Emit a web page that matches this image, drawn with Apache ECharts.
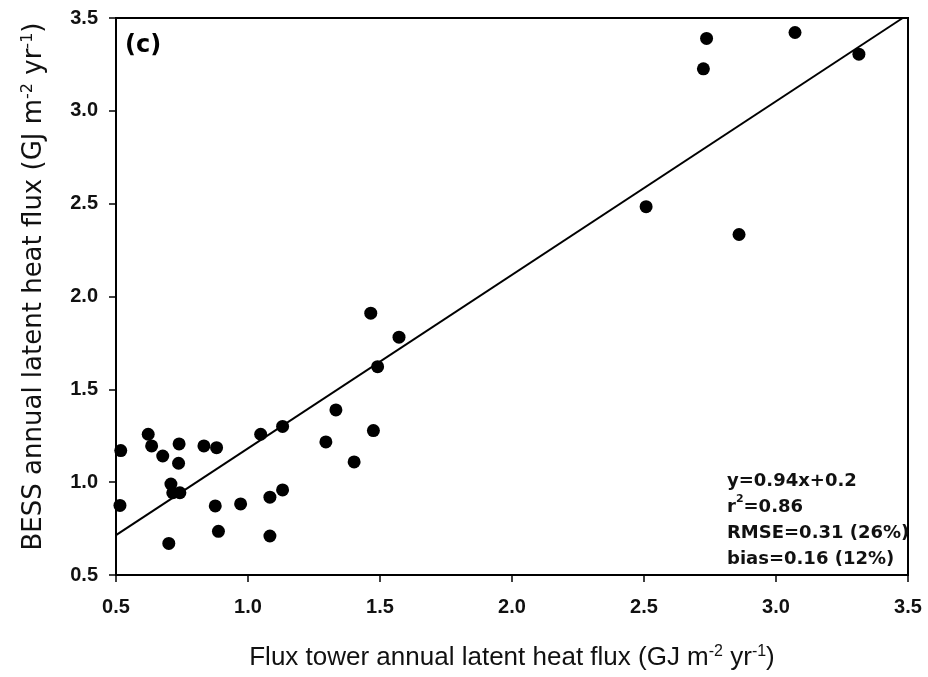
<!DOCTYPE html>
<html><head><meta charset="utf-8">
<script src="https://cdn.jsdelivr.net/npm/echarts@6/dist/echarts.min.js"></script>
<style>html,body{margin:0;padding:0;background:#fff}#c{width:928px;height:677px}</style>
</head><body><div id="c"></div>
<script>
const towerX = [0.518,0.515,0.622,0.635,0.677,0.739,0.737,0.708,0.715,0.742,0.700,0.833,0.881,0.876,0.888,0.972,1.048,1.131,1.083,1.131,1.083,1.333,1.295,1.402,1.475,1.465,1.572,1.491,2.508,2.860,2.737,2.725,3.072,3.314];
const bessY  = [1.170,0.875,1.258,1.195,1.141,1.206,1.102,0.990,0.943,0.943,0.670,1.195,1.186,0.872,0.735,0.883,1.258,1.300,0.919,0.958,0.710,1.389,1.217,1.109,1.278,1.910,1.781,1.622,2.484,2.334,3.390,3.226,3.422,3.305];
const fitX = [0.5, 3.48];
const fitY = [0.715, 3.5];
const xTicks = ['0.5','1.0','1.5','2.0','2.5','3.0','3.5'];
const statsLines = ['y=0.94x+0.2', 'r{sup|2}=0.86', 'RMSE=0.31 (26%)', 'bias=0.16 (12%)'];

const chart = echarts.init(document.getElementById('c'), null, {renderer:'canvas'});
const font = 'Liberation Sans, Arial, sans-serif';
const dv = 'DejaVu Sans, sans-serif';
chart.setOption({
  animation:false,
  backgroundColor:'#fff',
  grid:{left:116,right:20,top:18,bottom:102,show:true,borderColor:'#000',borderWidth:2,backgroundColor:'transparent'},
  xAxis:{type:'value',min:0.5,max:3.5,interval:0.5,
    axisLine:{show:true,onZero:false,lineStyle:{color:'#000',width:2}},
    axisTick:{show:true,inside:false,length:7,lineStyle:{color:'#000',width:1.5}},
    splitLine:{show:false},
    axisLabel:{color:'#111',fontFamily:font,fontWeight:'bold',fontSize:20,margin:22,
      formatter:v=>xTicks[Math.round((v-0.5)/0.5)]},
    name:'{t|Flux tower annual latent heat flux (GJ m}{s|-2}{t| yr}{s|-1}{t|)}',
    nameLocation:'middle',nameGap:69,
    nameTextStyle:{rich:{t:{fontFamily:font,fontSize:26,color:'#111'},s:{fontFamily:font,fontSize:16,color:'#111',verticalAlign:'top',padding:[0,0,12,0]}}}
  },
  yAxis:{type:'value',min:0.5,max:3.5,interval:0.5,
    axisLine:{show:true,onZero:false,lineStyle:{color:'#000',width:2}},
    axisTick:{show:true,inside:false,length:7,lineStyle:{color:'#000',width:1.5}},
    splitLine:{show:false},
    axisLabel:{color:'#111',fontFamily:font,fontWeight:'bold',fontSize:20,margin:18,formatter:v=>v.toFixed(1)},
    name:'{t|BESS annual latent heat flux (GJ m}{s|-2}{t| yr}{s|-1}{t|)}',
    nameLocation:'middle',nameGap:68,
    nameTextStyle:{padding:[0,0,0,20],rich:{t:{fontFamily:dv,fontSize:26,color:'#111'},s:{fontFamily:dv,fontSize:16,color:'#111',verticalAlign:'top',padding:[0,0,12,0]}}}
  },
  series:[
    {type:'line',data:fitX.map((x,i)=>[x,fitY[i]]),symbol:'none',lineStyle:{color:'#000',width:2},z:1,silent:true},
    {type:'scatter',data:towerX.map((x,i)=>[x,bessY[i]]),symbol:'circle',symbolSize:13,itemStyle:{color:'#000',opacity:1},z:2}
  ],
  graphic:[
    {type:'text',left:125,top:34,style:{text:'(c)',font:'bold 24px '+dv,fill:'#000'}},
    {type:'text',left:727,top:468,style:{text:statsLines.join('\n'),fill:'#111',
      rich:{sup:{font:'bold 11px '+dv,fill:'#111',verticalAlign:'top',padding:[0,0,8,0]}},
      font:'bold 18px '+dv,lineHeight:26}}
  ]
});
</script></body></html>
